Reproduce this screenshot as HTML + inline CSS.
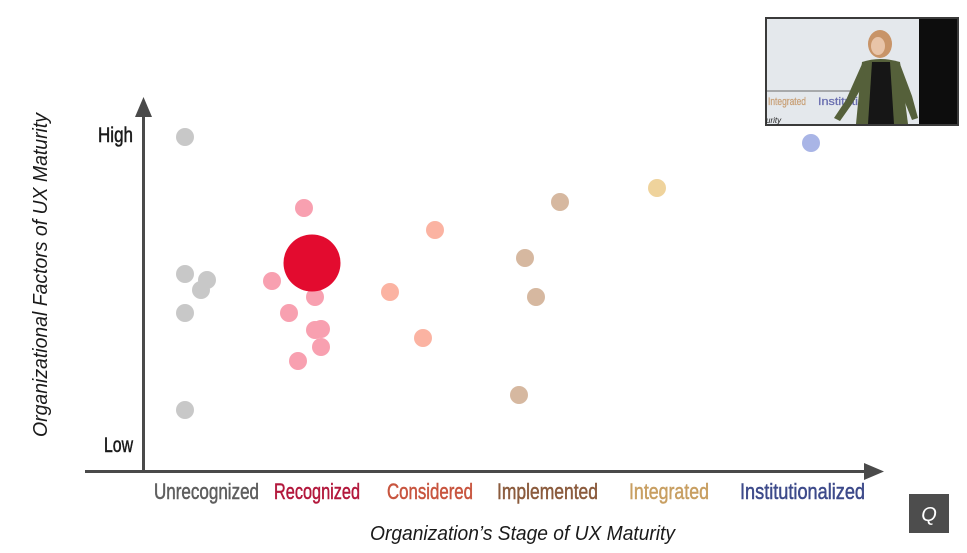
<!DOCTYPE html>
<html>
<head>
<meta charset="utf-8">
<style>
html,body{margin:0;padding:0;background:#fff;}
svg{display:block;}
</style>
</head>
<body>
<svg width="967" height="553" viewBox="0 0 967 553" xmlns="http://www.w3.org/2000/svg">
<rect width="967" height="553" fill="#ffffff"/>

<!-- Axes -->
<line x1="143.5" y1="114" x2="143.5" y2="472" stroke="#4a4a4a" stroke-width="3"/>
<polygon points="143.5,97 135,117 152,117" fill="#4a4a4a"/>
<line x1="85" y1="471.5" x2="866" y2="471.5" stroke="#4a4a4a" stroke-width="3"/>
<polygon points="884,471.5 864,463 864,480" fill="#4a4a4a"/>

<!-- High / Low -->
<text x="133" y="142" text-anchor="end" font-family="Liberation Sans, sans-serif" font-size="21" fill="#1a1a1a" stroke="#1a1a1a" stroke-width="0.5" textLength="35" lengthAdjust="spacingAndGlyphs">High</text>
<text x="133" y="452" text-anchor="end" font-family="Liberation Sans, sans-serif" font-size="21" fill="#1a1a1a" stroke="#1a1a1a" stroke-width="0.5" textLength="29" lengthAdjust="spacingAndGlyphs">Low</text>

<!-- Y axis title -->
<text transform="translate(47,437) rotate(-90)" x="0" y="0" font-family="Liberation Sans, sans-serif" font-style="italic" font-size="20" fill="#1a1a1a" textLength="324" lengthAdjust="spacingAndGlyphs">Organizational Factors of UX Maturity</text>

<!-- Category labels -->
<g font-family="Liberation Sans, sans-serif" font-size="22" stroke-width="0.5">
<text x="154" y="499" fill="#5e5e5e" stroke="#5e5e5e" textLength="105" lengthAdjust="spacingAndGlyphs">Unrecognized</text>
<text x="274" y="499" fill="#b3183c" stroke="#b3183c" textLength="86" lengthAdjust="spacingAndGlyphs">Recognized</text>
<text x="387" y="499" fill="#c8553f" stroke="#c8553f" textLength="86" lengthAdjust="spacingAndGlyphs">Considered</text>
<text x="497" y="499" fill="#8b5b3d" stroke="#8b5b3d" textLength="101" lengthAdjust="spacingAndGlyphs">Implemented</text>
<text x="629" y="499" fill="#c89f62" stroke="#c89f62" textLength="80" lengthAdjust="spacingAndGlyphs">Integrated</text>
<text x="740" y="499" fill="#3d4a8a" stroke="#3d4a8a" textLength="125" lengthAdjust="spacingAndGlyphs">Institutionalized</text>
</g>

<!-- X axis title -->
<text x="370" y="540" font-family="Liberation Sans, sans-serif" font-style="italic" font-size="20" fill="#1a1a1a" textLength="305" lengthAdjust="spacingAndGlyphs">Organization’s Stage of UX Maturity</text>

<!-- Gray dots -->
<g fill="#c8c8c8">
<circle cx="185" cy="137" r="9"/>
<circle cx="185" cy="274" r="9"/>
<circle cx="207" cy="280" r="9"/>
<circle cx="201" cy="290" r="9"/>
<circle cx="185" cy="313" r="9"/>
<circle cx="185" cy="410" r="9"/>
</g>

<!-- Pink dots -->
<g fill="#f8a0b0">
<circle cx="304" cy="208" r="9"/>
<circle cx="272" cy="281" r="9"/>
<circle cx="315" cy="297" r="9"/>
<circle cx="289" cy="313" r="9"/>
<circle cx="315" cy="330" r="9"/>
<circle cx="321" cy="329" r="9"/>
<circle cx="321" cy="347" r="9"/>
<circle cx="298" cy="361" r="9"/>
</g>
<circle cx="312" cy="263" r="28.5" fill="#e30b2f"/>

<!-- Orange dots -->
<g fill="#fbb3a2">
<circle cx="435" cy="230" r="9"/>
<circle cx="390" cy="292" r="9"/>
<circle cx="423" cy="338" r="9"/>
</g>

<!-- Brown dots -->
<g fill="#d6b8a0">
<circle cx="560" cy="202" r="9"/>
<circle cx="525" cy="258" r="9"/>
<circle cx="536" cy="297" r="9"/>
<circle cx="519" cy="395" r="9"/>
</g>

<!-- Yellow -->
<circle cx="657" cy="188" r="9" fill="#efd39c"/>
<!-- Blue -->
<circle cx="811" cy="143" r="9" fill="#a9b5e6"/>

<!-- Video inset -->
<g>
<rect x="765" y="17" width="194" height="109" fill="#3a3a3a"/>
<rect x="767" y="19" width="152" height="105" fill="#e4e8ec"/>
<rect x="919" y="19" width="38" height="105" fill="#0d0d0d"/>
<line x1="767" y1="91" x2="880" y2="91" stroke="#6a6a6a" stroke-width="1"/>
<text x="768" y="105" font-family="Liberation Sans, sans-serif" font-size="11" fill="#c9a27a" stroke="#c9a27a" stroke-width="0.3" textLength="38" lengthAdjust="spacingAndGlyphs">Integrated</text>
<text x="818" y="105" font-family="Liberation Sans, sans-serif" font-size="11" fill="#6a6fb0" stroke="#6a6fb0" stroke-width="0.3" textLength="40" lengthAdjust="spacingAndGlyphs">Instituti</text>
<text x="766" y="123" font-family="Liberation Sans, sans-serif" font-style="italic" font-size="8" fill="#222">urity</text>
<!-- person -->
<ellipse cx="880" cy="44" rx="12" ry="14" fill="#c89468"/>
<ellipse cx="878" cy="46" rx="7" ry="9" fill="#e8c4a8"/>
<path d="M862 62 Q880 56 900 62 L908 124 L856 124 Z" fill="#55603a"/>
<path d="M872 62 L890 62 L894 124 L868 124 Z" fill="#161616"/>
<path d="M862 64 L846 100 L834 118 L840 121 L852 104 L866 80 Z" fill="#55603a"/>
<path d="M900 64 L912 96 L918 118 L912 120 L904 100 L896 82 Z" fill="#55603a"/>
</g>

<!-- Logo box -->
<rect x="909" y="494" width="40" height="39" fill="#4d4d4d"/>
<text x="929" y="521" text-anchor="middle" font-family="Liberation Sans, sans-serif" font-style="italic" font-size="20" fill="#ffffff">Q</text>
</svg>
</body>
</html>
